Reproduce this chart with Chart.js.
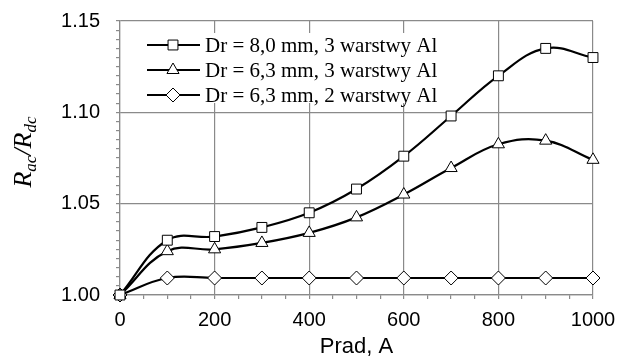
<!DOCTYPE html>
<html>
<head>
<meta charset="utf-8">
<script src="https://cdn.jsdelivr.net/npm/chart.js@4"></script>
<style>
  html, body { margin: 0; padding: 0; background: #fff; }
  #wrap { width: 619px; height: 358px; }
</style>
</head>
<body>
<div id="wrap"><canvas id="chart" width="619" height="358"></canvas></div>
<script>
// Prąd, A
const current = [0, 100, 200, 300, 400, 500, 600, 700, 800, 900, 1000];
// Rac/Rdc
const dr80w3 = [1.000, 1.030, 1.032, 1.037, 1.045, 1.058, 1.076, 1.098, 1.120, 1.135, 1.130];
const dr63w3 = [1.000, 1.024, 1.025, 1.0285, 1.034, 1.0425, 1.055, 1.0695, 1.0825, 1.0845, 1.074];
const dr63w2 = [1.000, 1.0093, 1.0093, 1.0093, 1.0093, 1.0093, 1.0093, 1.0093, 1.0093, 1.0093, 1.0093];

const seriesLabels = [
    "Dr = 8,0 mm, 3 warstwy Al",
    "Dr = 6,3 mm, 3 warstwy Al",
    "Dr = 6,3 mm, 2 warstwy Al",
];
const markers = ["rect", "triangle", "rectRot"];

const gridGray = "#8a8a8a";

function toPoints(vals) {
    return vals.map((v, i) => ({ x: current[i], y: v }));
}

// legenda wewnątrz obszaru wykresu, na białym tle
const innerLegend = {
    id: "innerLegend",
    afterDraw(chart) {
        const ctx = chart.ctx;
        const a = chart.chartArea;
        ctx.save();
        ctx.fillStyle = "#fff";
        ctx.fillRect(a.left + 21, a.top + 12, 306, 70);
        chart.data.datasets.forEach((ds, i) => {
            const y = a.top + 24 + i * 25;
            const x0 = a.left + 27;
            ctx.strokeStyle = "#000";
            ctx.lineWidth = 2;
            ctx.beginPath();
            ctx.moveTo(x0, y);
            ctx.lineTo(x0 + 53, y);
            ctx.stroke();
            ctx.fillStyle = "#fff";
            ctx.lineWidth = 1;
            Chart.helpers.drawPoint(ctx, {
                pointStyle: ds.pointStyle,
                radius: ds.pointRadius,
                borderWidth: 1,
                rotation: 0,
            }, x0 + 26, y);
            ctx.fillStyle = "#000";
            ctx.font = "21px 'Liberation Serif', 'Times New Roman', serif";
            ctx.textBaseline = "middle";
            ctx.textAlign = "left";
            ctx.fillText(ds.label, x0 + 58, y + 1);
        });
        ctx.restore();
    },
};

// opis osi Y: R_ac / R_dc z indeksami dolnymi
const yTitle = {
    id: "yTitle",
    afterDraw(chart) {
        const ctx = chart.ctx;
        const a = chart.chartArea;
        const big = "italic 26px 'Liberation Serif', 'Times New Roman', serif";
        const small = "italic 17px 'Liberation Serif', 'Times New Roman', serif";
        const parts = [
            ["R", big, 0], ["ac", small, 5], ["/", big, 0], ["R", big, 0], ["dc", small, 5],
        ];
        ctx.save();
        let total = 0;
        parts.forEach(p => { ctx.font = p[1]; total += ctx.measureText(p[0]).width; });
        ctx.translate(31, (a.top + a.bottom) / 2 - 6);
        ctx.rotate(-Math.PI / 2);
        ctx.fillStyle = "#000";
        ctx.textBaseline = "alphabetic";
        let x = -total / 2;
        parts.forEach(p => {
            ctx.font = p[1];
            ctx.fillText(p[0], x, p[2]);
            x += ctx.measureText(p[0]).width;
        });
        ctx.restore();
    },
};

const datasets = [dr80w3, dr63w3, dr63w2].map((vals, i) => ({
    label: seriesLabels[i],
    data: toPoints(vals),
    borderColor: "#000",
    borderWidth: 2.2,
    pointStyle: markers[i],
    pointRadius: 7,
    pointBorderWidth: 1,
    pointBorderColor: "#000",
    pointBackgroundColor: "#fff",
    tension: 0.4,
    clip: false,
}));

const tickFont = { family: "'Liberation Sans', Arial, sans-serif", size: 20 };

new Chart(document.getElementById("chart").getContext("2d"), {
    type: "line",
    data: { datasets },
    plugins: [innerLegend, yTitle],
    options: {
        responsive: false,
        animation: false,
        layout: { padding: { left: 0, right: 26, top: 21, bottom: 0 } },
        plugins: {
            legend: { display: false },
            tooltip: { enabled: false },
        },
        scales: {
            x: {
                type: "linear",
                min: 0,
                max: 1000,
                afterFit(scale) {
                    scale.height = 63;
                    scale.paddingLeft = 0;
                    scale.paddingRight = 0;
                },
                ticks: {
                    stepSize: 50,
                    autoSkip: false,
                    maxRotation: 0,
                    maxTicksLimit: 100,
                    padding: 9,
                    color: "#000",
                    font: tickFont,
                    callback: v => (v % 200 === 0 ? String(v) : ""),
                },
                grid: {
                    color: c => (c.tick && c.tick.value % 200 === 0 ? gridGray : "rgba(0,0,0,0)"),
                    tickColor: gridGray,
                    tickLength: 4,
                    lineWidth: 1.2,
                },
                border: { color: gridGray, width: 1.2 },
                title: {
                    display: true,
                    text: "Prad, A",
                    color: "#000",
                    font: { family: "'Liberation Sans', Arial, sans-serif", size: 22, lineHeight: 1 },
                    padding: { top: 0, bottom: 0 },
                },
            },
            y: {
                min: 1.0,
                max: 1.15,
                afterFit(scale) {
                    scale.width = 120;
                    scale.paddingTop = 0;
                    scale.paddingBottom = 0;
                },
                ticks: {
                    stepSize: 0.005,
                    autoSkip: false,
                    maxTicksLimit: 100,
                    padding: 16,
                    color: "#000",
                    font: tickFont,
                    callback: v => (Math.abs(v * 20 - Math.round(v * 20)) < 1e-6 ? v.toFixed(2) : ""),
                },
                grid: {
                    color: c => (c.tick && Math.abs(c.tick.value * 20 - Math.round(c.tick.value * 20)) < 1e-6 ? gridGray : "rgba(0,0,0,0)"),
                    tickColor: gridGray,
                    tickLength: 4,
                    lineWidth: 1.2,
                },
                border: { color: gridGray, width: 1.2 },
            },
        },
    },
});
</script>
</body>
</html>
